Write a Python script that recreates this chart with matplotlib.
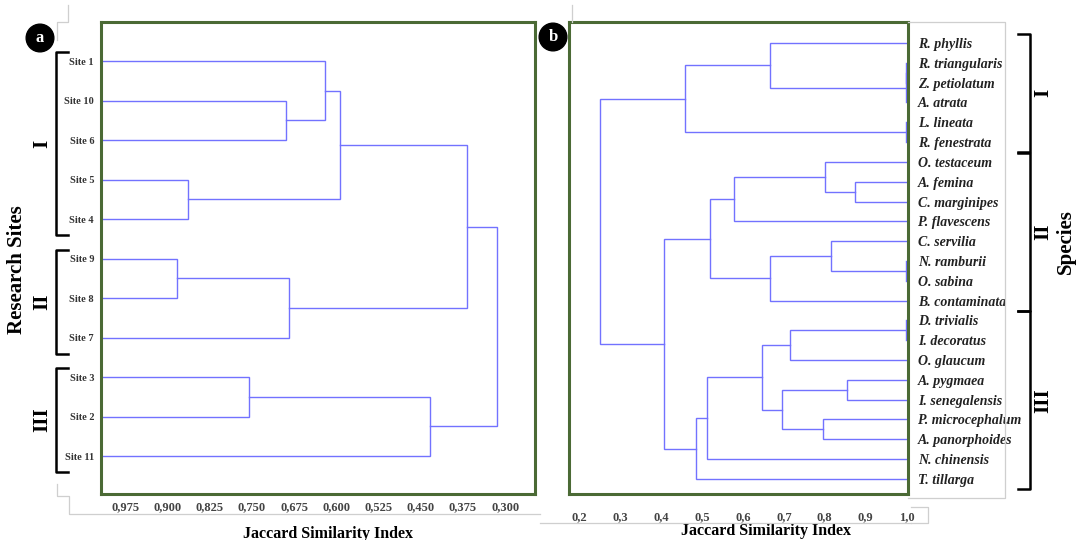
import matplotlib.pyplot as plt
from matplotlib.lines import Line2D

# --- data: (a) research sites ---
sites = ["Site 1", "Site 10", "Site 6", "Site 5", "Site 4", "Site 9",
         "Site 8", "Site 7", "Site 3", "Site 2", "Site 11"]
# merges like a linkage matrix: (child a, child b, similarity)
site_merges = [
    (1, 2, 0.689), (0, 11, 0.620), (3, 4, 0.863), (12, 13, 0.593),
    (5, 6, 0.883), (15, 7, 0.684), (14, 16, 0.368), (8, 9, 0.755),
    (18, 10, 0.433), (17, 19, 0.314),
]
site_ticks = [0.975, 0.900, 0.825, 0.750, 0.675, 0.600, 0.525, 0.450, 0.375, 0.300]
site_ticklabels = ["0,975", "0,900", "0,825", "0,750", "0,675", "0,600",
                   "0,525", "0,450", "0,375", "0,300"]
site_groups = [("I", 0, 4), ("II", 5, 7), ("III", 8, 10)]

# --- data: (b) species ---
species = ["R. phyllis", "R. triangularis", "Z. petiolatum", "A. atrata",
           "L. lineata", "R. fenestrata", "O. testaceum", "A. femina",
           "C. marginipes", "P. flavescens", "C. servilia", "N. ramburii",
           "O. sabina", "B. contaminata", "D. trivialis", "I. decoratus",
           "O. glaucum", "A. pygmaea", "I. senegalensis", "P. microcephalum",
           "A. panorphoides", "N. chinensis", "T. tillarga"]
species_merges = [
    (1, 2, 1.0), (23, 3, 1.0), (0, 24, 0.666), (4, 5, 1.0), (25, 26, 0.457),
    (7, 8, 0.874), (6, 28, 0.800), (29, 9, 0.578), (11, 12, 1.0),
    (10, 31, 0.816), (32, 13, 0.666), (30, 33, 0.520), (14, 15, 1.0),
    (35, 16, 0.716), (17, 18, 0.855), (19, 20, 0.795), (37, 38, 0.695),
    (36, 39, 0.646), (40, 21, 0.512), (41, 22, 0.484), (34, 42, 0.406),
    (27, 43, 0.249),
]
species_ticks = [0.2, 0.3, 0.4, 0.5, 0.6, 0.7, 0.8, 0.9, 1.0]
species_ticklabels = ["0,2", "0,3", "0,4", "0,5", "0,6", "0,7", "0,8", "0,9", "1,0"]
species_groups = [("I", 0, 5), ("II", 6, 13), ("III", 14, 22)]

LINE = "#7272ff"
FRAME = "#4b6a35"
SERIF = "Liberation Serif"
W, H = 1077, 540


def draw_dendrogram(ax, n, merges, leaf_x):
    pos = {i: (leaf_x, float(i)) for i in range(n)}
    for k, (a, b, h) in enumerate(merges):
        xa, ya = pos[a]
        xb, yb = pos[b]
        ax.plot([xa, h, h, xb], [ya, ya, yb, yb], color=LINE, lw=1.0,
                solid_joinstyle="miter")
        pos[n + k] = (h, (ya + yb) / 2)


def style_frame(ax):
    for s in ax.spines.values():
        s.set_color(FRAME)
        s.set_linewidth(2.2)
    ax.tick_params(axis="both", length=0)


def fig_line(fig, xs, ys, color="#cfcfcf", lw=0.9):
    fig.add_artist(Line2D([x / W for x in xs], [1 - y / H for y in ys],
                          color=color, lw=lw))


def bracket(fig, x, y0, y1, tick, color="black"):
    fig_line(fig, [x + tick, x, x, x + tick], [y0, y0, y1, y1], color=color, lw=1.8)


fig = plt.figure(figsize=(W / 100, H / 100), dpi=100)

# light grey frames from the original composite
fig_line(fig, [68, 68, 57, 57], [5, 22, 22, 40])
fig_line(fig, [57, 57, 69, 69, 540], [484, 496, 496, 514, 514])
fig_line(fig, [572, 572], [5, 22])
fig_line(fig, [540, 911], [523, 523])
fig_line(fig, [908, 1005, 1005, 908], [22, 22, 498, 498])
fig_line(fig, [911, 928, 928, 911], [507, 507, 523, 523])

# ---- panel a ----
axa = fig.add_axes([101 / W, 1 - 494 / H, (535 - 101) / W, (494 - 22) / H])
left_a = 1.018
draw_dendrogram(axa, len(sites), site_merges, left_a)
axa.set_xlim(left_a, 0.247)
axa.set_ylim(10.96, -0.99)
axa.set_yticks(range(len(sites)))
axa.set_yticklabels(sites, fontfamily=SERIF, fontweight="bold", fontsize=7.5,
                    color="#333333")
axa.tick_params(axis="y", pad=5)
axa.set_xticks(site_ticks)
axa.set_xticklabels(site_ticklabels, fontfamily=SERIF, fontweight="bold",
                    fontsize=9, color="#444444")
axa.tick_params(axis="x", pad=5)
style_frame(axa)
axa.set_xlabel("Jaccard Similarity Index", fontfamily=SERIF, fontweight="bold",
               fontsize=11.5)
axa.xaxis.set_label_coords(0.523, -0.068)

# ---- panel b ----
axb = fig.add_axes([569 / W, 1 - 494 / H, (908 - 569) / W, (494 - 22) / H])
draw_dendrogram(axb, len(species), species_merges, 1.0)
axb.set_xlim(0.174, 1.004)
axb.set_ylim(22.76, -1.06)
axb.yaxis.tick_right()
axb.set_yticks(range(len(species)))
axb.set_yticklabels(species, fontfamily=SERIF, fontweight="bold",
                    fontstyle="italic", fontsize=10, color="#222222")
axb.tick_params(axis="y", pad=7)
axb.set_xticks(species_ticks)
axb.set_xticklabels(species_ticklabels, fontfamily=SERIF, fontweight="bold",
                    fontsize=9, color="#444444")
axb.tick_params(axis="x", pad=12)
style_frame(axb)
axb.set_xlabel("Jaccard Similarity Index", fontfamily=SERIF, fontweight="bold",
               fontsize=11.5)
axb.xaxis.set_label_coords(0.582, -0.062)

# ---- brackets and group labels ----
step_a = 39.5
for name, i0, i1 in site_groups:
    y0 = 61 + i0 * step_a - 9
    y1 = 61 + i1 * step_a + 16
    bracket(fig, 56, y0, y1, 12)
    fig.text(42 / W, 1 - ((y0 + y1) / 2) / H, name, rotation=90, ha="center",
             va="center", fontfamily=SERIF, fontweight="bold", fontsize=15)

step_b = 19.82
for name, i0, i1 in species_groups:
    y0 = 43 + i0 * step_b - 9
    y1 = 43 + i1 * step_b + 10
    bracket(fig, 1030, y0, y1, -12)
    fig.text(1043 / W, 1 - ((y0 + y1) / 2) / H, name, rotation=90, ha="center",
             va="center", fontfamily=SERIF, fontweight="bold", fontsize=15)

fig.text(17 / W, 1 - 270 / H, "Research Sites", rotation=90, ha="center",
         va="center", fontfamily=SERIF, fontweight="bold", fontsize=15)
fig.text(1066 / W, 1 - 242 / H, "Species", rotation=90, ha="center",
         va="center", fontfamily=SERIF, fontweight="bold", fontsize=15)

# ---- panel badges ----
for label, cx, cy in [("a", 40, 38), ("b", 553, 37)]:
    fig.text(cx / W, 1 - cy / H, label, ha="center", va="center", color="white",
             fontfamily=SERIF, fontweight="bold", fontsize=12,
             bbox=dict(boxstyle="circle,pad=0.35", fc="black", ec="black"))

fig.savefig("out.png", dpi=100)
